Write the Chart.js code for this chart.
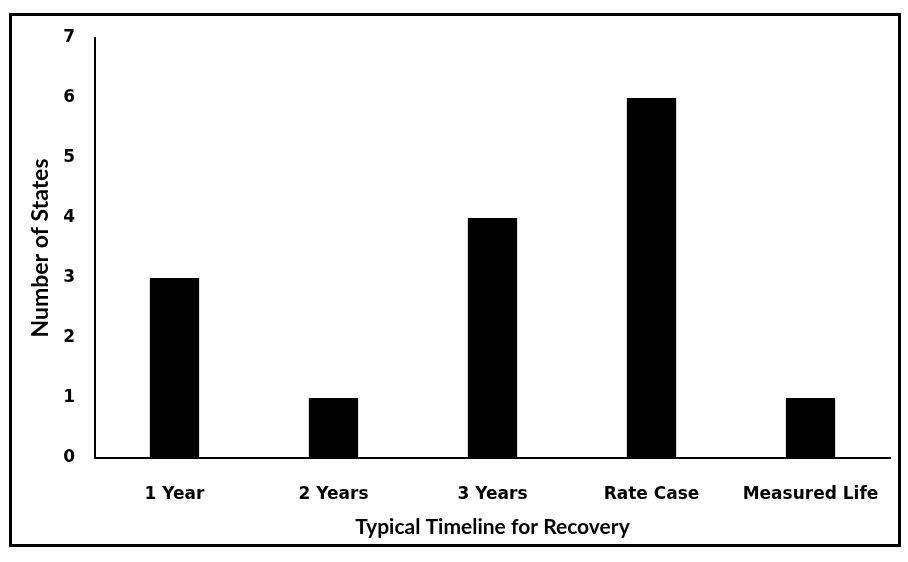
<!DOCTYPE html>
<html>
<head>
<meta charset="utf-8">
<script src="https://cdn.jsdelivr.net/npm/chart.js@4"></script>
<style>
html,body{margin:0;padding:0;background:#fff;}
#box{position:absolute;left:9px;top:13px;width:886px;height:528px;border:3px solid #000;}
#box canvas{position:absolute;left:0;top:0;}
</style>
</head>
<body>
<div id="box"><canvas id="chart" width="886" height="528"></canvas></div>
<script>
// ---- data ----
const categories=["1 Year","2 Years","3 Years","Rate Case","Measured Life"];
const states=[3,1,4,6,1];
const yTicks=[0,1,2,3,4,5,6,7];

const ctx=document.getElementById("chart").getContext("2d");
new Chart(ctx,{
type:"bar",
data:{
labels:categories,
datasets:[{
label:"Number of States",
data:states,
backgroundColor:"#000",
barPercentage:0.62,
categoryPercentage:0.5
}]
},
options:{
responsive:false,
animation:false,
layout:{padding:{top:22,right:8,left:0,bottom:4}},
plugins:{legend:{display:false},tooltip:{enabled:false}},
scales:{
x:{
afterFit:s=>{s.height=82;s.paddingLeft=0;s.paddingRight=0;},
grid:{display:false,drawTicks:false},
border:{color:"#000",width:2},
ticks:{color:"#000",padding:26,font:{family:"DejaVu Sans",weight:"bold",size:17}},
title:{display:true,text:"Typical Timeline for Recovery",color:"#000",padding:{top:0,bottom:0},font:{family:"Lato",weight:"bold",size:21}}
},
y:{
min:0,max:7,
afterBuildTicks:s=>{s.ticks=yTicks.map(v=>({value:v}));},
afterFit:s=>{s.width=83;s.paddingTop=0;s.paddingBottom=0;},
grid:{display:false,drawTicks:false},
border:{color:"#000",width:2},
ticks:{color:"#000",padding:20,font:{family:"DejaVu Sans",weight:"bold",size:17}},
title:{display:true,text:"Number of States",color:"#000",padding:{top:15},font:{family:"Lato",weight:"bold",size:23}}
}
}
}
});
</script>
</body>
</html>
